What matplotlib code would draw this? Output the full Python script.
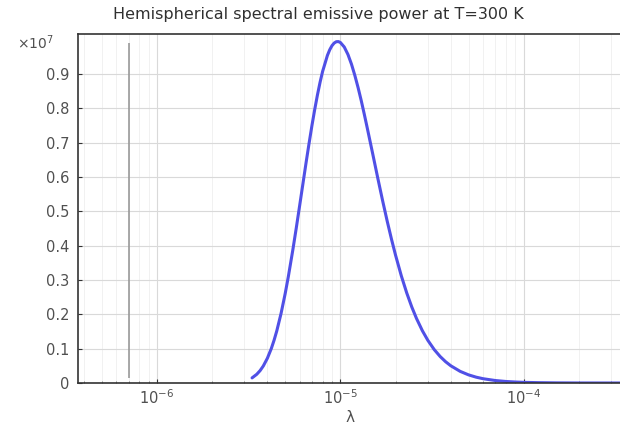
import matplotlib
matplotlib.use("Agg")
import matplotlib.pyplot as plt
from matplotlib.ticker import FixedLocator, FixedFormatter, LogLocator, NullFormatter

plt.rcParams["font.family"] = ["DejaVu Sans"]
plt.rcParams["mathtext.fontset"] = "dejavusans"

# wavelength (um) and emissive power (x1e7)
wavelength_um = [3.3, 3.5, 3.65, 3.8, 4.0, 4.2, 4.35, 4.5, 4.75, 5.0, 5.2, 5.5, 5.75, 6.0,
                 6.25, 6.5, 6.75, 7.0, 7.25, 7.5, 7.75, 8.0, 8.5, 8.75, 9.0, 9.25, 9.5,
                 9.75, 10.0, 10.5, 11.0, 11.5, 12.0, 12.5, 13.0, 13.5, 14.0, 15.0, 16.0,
                 17.0, 18.0, 19.0, 20.0, 21.5, 23.0, 24.5, 26.0, 28.0, 30.0, 32.5, 35.0,
                 37.5, 40.0, 45.0, 50.0, 55.0, 60.0, 70.0, 80.0, 90.0, 100.0, 120.0, 150.0,
                 200.0, 340.0]
power = [0.0149, 0.0254, 0.0361, 0.0496, 0.0722, 0.1001, 0.1246, 0.1517, 0.2029, 0.2602,
         0.3093, 0.3865, 0.4521, 0.5176, 0.5809, 0.6418, 0.6983, 0.7507, 0.7977, 0.8397,
         0.8764, 0.9078, 0.9548, 0.9711, 0.983, 0.9906, 0.9945, 0.9949, 0.9923, 0.9791,
         0.9572, 0.9289, 0.8958, 0.8601, 0.8225, 0.7834, 0.7443, 0.6685, 0.5967, 0.5310,
         0.4718, 0.4190, 0.3722, 0.3121, 0.2626, 0.2218, 0.1882, 0.1523, 0.1242, 0.0973,
         0.0772, 0.0619, 0.0502, 0.0339, 0.0237, 0.0170, 0.0125, 0.0072, 0.0044, 0.0029,
         0.0019, 0.0010, 0.0004, 0.0001, 0.0]
marker_wavelength = 7e-7
ytick_values = [0, 0.1, 0.2, 0.3, 0.4, 0.5, 0.6, 0.7, 0.8, 0.9]
ytick_labels = ["0", "0.1", "0.2", "0.3", "0.4", "0.5", "0.6", "0.7", "0.8", "0.9"]
xtick_values = [1e-6, 1e-5, 1e-4]
xtick_labels = [r"$10^{-6}$", r"$10^{-5}$", r"$10^{-4}$"]

lam = [w * 1e-6 for w in wavelength_um]

fig = plt.figure(figsize=(6.2, 4.3), dpi=100)
ax = fig.add_axes([78/620, 1 - 383/430, 1 - 78/620 + 0.002, (383 - 34)/430])

txt = "#505050"
ax.set_xscale("log")
ax.set_xlim(3.71e-7, 3.4e-4)
ax.set_ylim(0, 1.017)

ax.grid(True, which="major", color="#d9d9d9", linewidth=0.8)
ax.grid(True, which="minor", axis="x", color="#efefef", linewidth=0.6)
ax.xaxis.set_minor_locator(LogLocator(base=10, subs=range(2, 10)))
ax.xaxis.set_minor_formatter(NullFormatter())

ax.vlines(marker_wavelength, 0.015, 0.99, color="#999999", linewidth=1.2)
ax.plot(lam, power, color="#5050e6", linewidth=2.2, solid_capstyle="round")

ax.xaxis.set_major_locator(FixedLocator(xtick_values))
ax.xaxis.set_major_formatter(FixedFormatter(xtick_labels))
ax.yaxis.set_major_locator(FixedLocator(ytick_values))
ax.yaxis.set_major_formatter(FixedFormatter(ytick_labels))

ax.tick_params(axis="both", which="major", direction="in", length=3, color="#333333",
               labelcolor=txt, labelsize=10.5, pad=4)
ax.tick_params(axis="x", which="minor", direction="in", length=1.5, color="#777777")
ax.tick_params(axis="y", which="major", pad=6)

for s in ["left", "bottom", "top"]:
    ax.spines[s].set_color("#333333")
    ax.spines[s].set_linewidth(1.2)
ax.spines["right"].set_visible(False)

ax.set_xlabel("λ", color=txt, fontsize=11, labelpad=2)
fig.text(0.513, 1 - 15/430, "Hemispherical spectral emissive power at T=300 K",
         ha="center", va="center", fontsize=11.5, color="#303030")
fig.text(17/620, 1 - 43/430, r"$\times 10^{7}$", ha="left", va="center",
         fontsize=10, color=txt)

fig.savefig("out.png", dpi=100)
